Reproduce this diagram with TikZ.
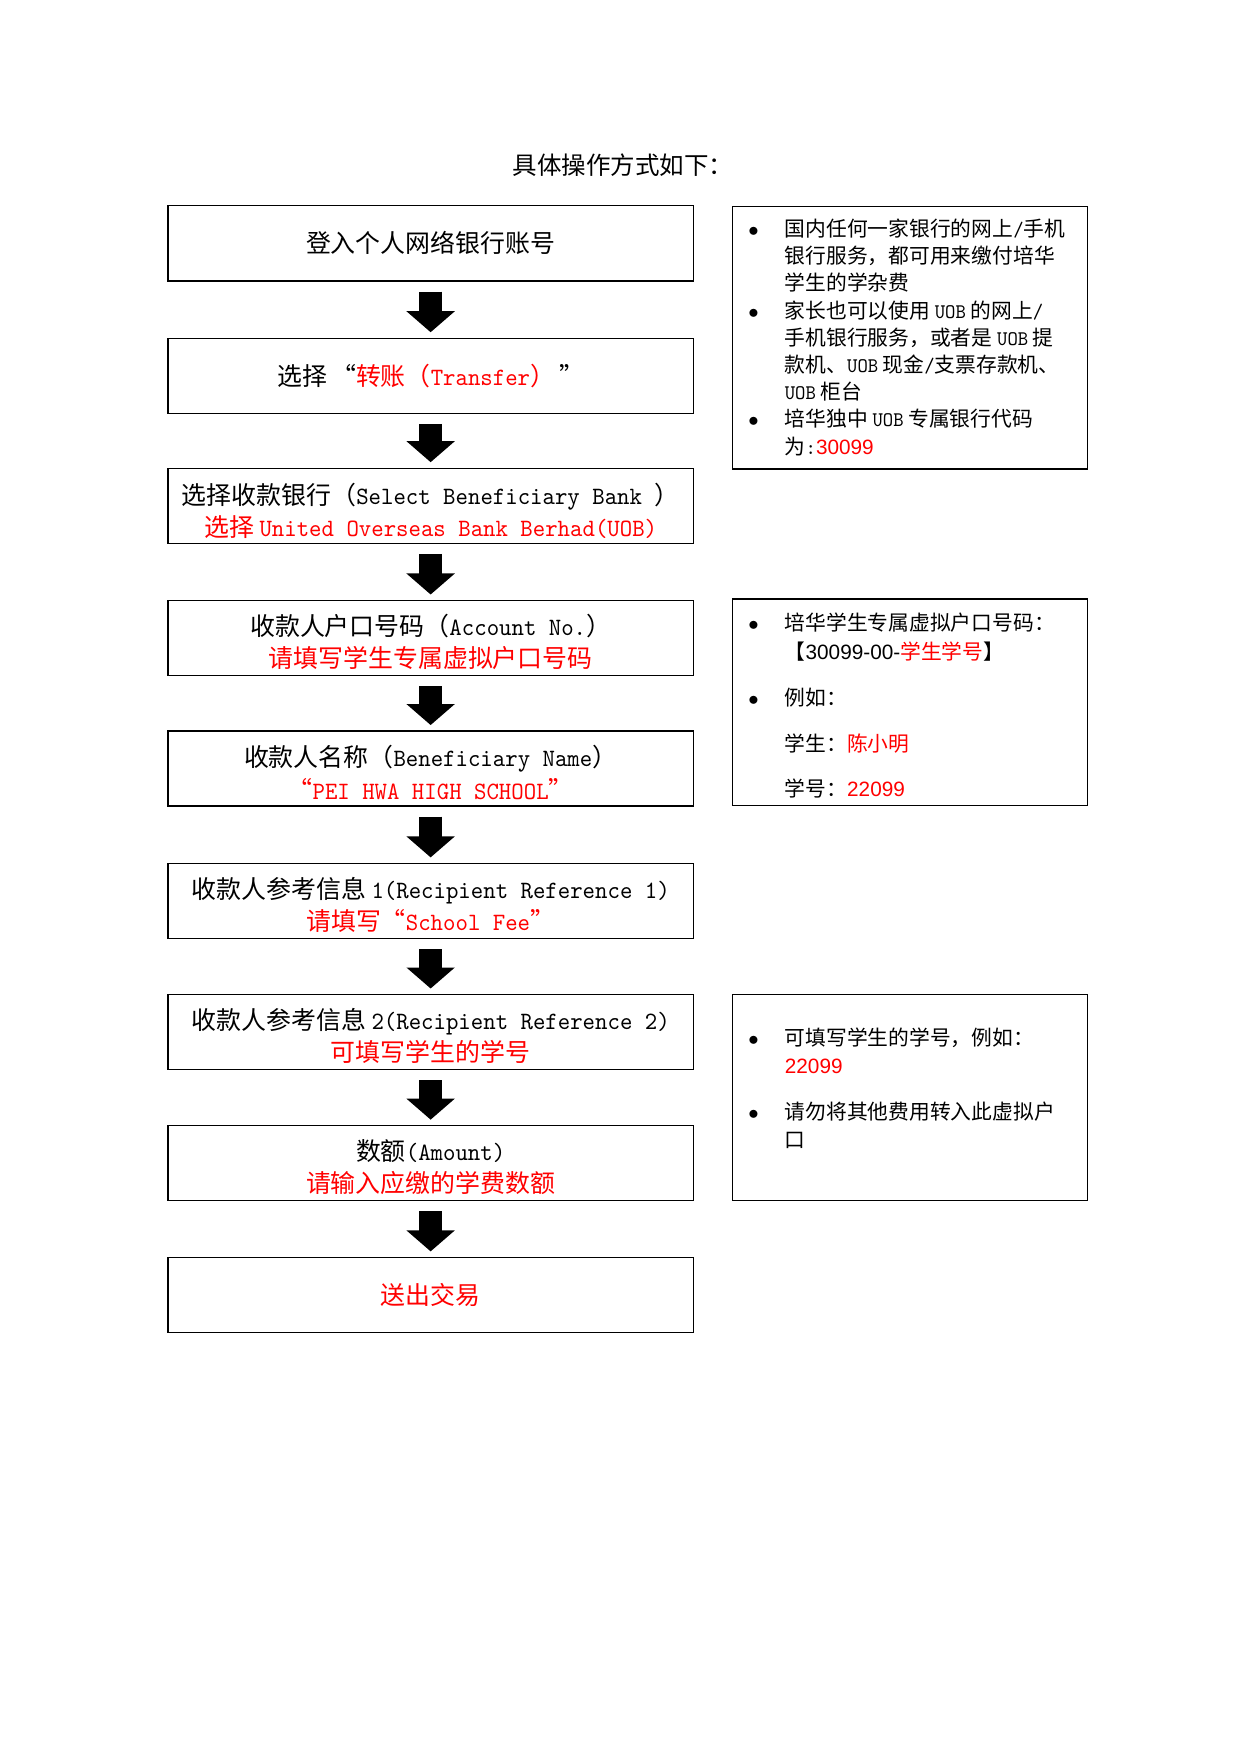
\documentclass[tikz,border=0pt]{standalone}
\usepackage{fontspec}
\setmainfont{Noto Sans CJK SC}
\newfontfamily\monolat{lmmono10-regular.otf}[FakeStretch=0.95]
\newfontfamily\arialnum{Liberation Sans}
\usepackage{xcolor}
\usepackage{tikz}
\usetikzlibrary{arrows.meta}

\newcommand{\mono}[1]{{\monolat #1}}
\newcommand{\anum}[1]{{\arialnum #1}}
\newcommand{\rd}[1]{\textcolor{red}{#1}}
\newcommand{\bul}{\makebox[0.62cm][l]{$\bullet$}}
\newcommand{\indt}{\hspace*{0.62cm}}
\newcommand{\topgap}{\rule{0pt}{14pt}}

\begin{document}
\begin{tikzpicture}[
         stepbox/.style={draw, line width=0.6pt, minimum width=8.89cm,
            minimum height=1.27cm, align=center, inner sep=2pt,
            font=\fontsize{12pt}{15.5pt}\selectfont},
         notebox/.style={draw, line width=0.6pt, minimum width=6.01cm},
         notetext/.style={anchor=north west, inner sep=0pt, align=left,
            font=\fontsize{10pt}{13.1pt}\selectfont},
         bigdown/.style={line width=0.40cm,
            -{Triangle[length=0.356cm, width=0.80cm]},
            shorten <=0.17cm, shorten >=0.09cm}]
         \useasboundingbox (0,0) rectangle (21.01,-29.71);

         \node (title) at (10.55,-2.79)
            [font=\fontsize{11.8pt}{14pt}\selectfont] {具体操作方式如下：};

         % steps on the left
         \node (s1) at (7.29,-4.12) [stepbox] {登入个人网络银行账号};
         \node (s2) at (7.29,-6.36) [stepbox]
            {选择\,“\rd{转账（\mono{Transfer}）}\,”};
         \node (s3) at (7.29,-8.56) [stepbox]
            {\rule{0pt}{15pt}选择收款银行（\mono{Select Beneficiary Bank }）\\
             \rd{选择 \mono{United Overseas Bank Berhad(UOB)}}};
         \node (s4) at (7.29,-10.80) [stepbox]
            {\topgap 收款人户口号码（\mono{Account No.}）\\
             \rd{请填写学生专属虚拟户口号码}};
         \node (s5) at (7.29,-13.01) [stepbox]
            {\topgap 收款人名称（\mono{Beneficiary Name}）\\
             \rd{“\mono{PEI HWA HIGH SCHOOL}”}};
         \node (s6) at (7.29,-15.25) [stepbox]
            {\topgap 收款人参考信息 \mono{1(Recipient Reference 1)}\\
             \rd{请填写“\mono{School Fee}”}};
         \node (s7) at (7.29,-17.47) [stepbox]
            {\topgap 收款人参考信息 \mono{2(Recipient Reference 2)}\\
             \rd{可填写学生的学号}};
         \node (s8) at (7.29,-19.69) [stepbox]
            {\topgap 数额\mono{(Amount)}\\
             \rd{请输入应缴的学费数额}};
         \node (s9) at (7.29,-21.92) [stepbox] {\rd{送出交易}};

         \draw [bigdown] (s1) -- (s2);
         \draw [bigdown] (s2) -- (s3);
         \draw [bigdown] (s3) -- (s4);
         \draw [bigdown] (s4) -- (s5);
         \draw [bigdown] (s5) -- (s6);
         \draw [bigdown] (s6) -- (s7);
         \draw [bigdown] (s7) -- (s8);
         \draw [bigdown] (s8) -- (s9);

         % notes on the right
         \node (n1) at (15.40,-5.715) [notebox, minimum height=4.45cm] {};
         \node (t1) at (12.66,-3.70) [notetext] {%
            \bul 国内任何一家银行的网上\mono{/}手机\\
            \indt 银行服务，都可用来缴付培华\\
            \indt 学生的学杂费\\
            \bul 家长也可以使用 \mono{UOB} 的网上\mono{/}\\
            \indt 手机银行服务，或者是 \mono{UOB} 提\\
            \indt 款机、\mono{UOB} 现金\mono{/}支票存款机、\\
            \indt \mono{UOB} 柜台\\
            \bul 培华独中 \mono{UOB} 专属银行代码\\
            \indt 为\mono{:}\rd{\anum{30099}}};

         \node (n2) at (15.40,-11.887) [notebox, minimum height=3.49cm] {};
         \node (t2) at (12.66,-10.37) [notetext] {%
            \bul 培华学生专属虚拟户口号码：\\[0.7pt]
            \indt 【\anum{30099-00-}\rd{学生学号}】\\[9pt]
            \bul 例如：\\[9pt]
            \indt 学生：\rd{陈小明}\\[9pt]
            \indt 学号：\rd{\anum{22099}}};

         \node (n3) at (15.40,-18.576) [notebox, minimum height=3.49cm] {};
         \node (t3) at (12.66,-17.39) [notetext] {%
            \bul 可填写学生的学号，例如：\\[0.7pt]
            \indt \rd{\anum{22099}}\\[9pt]
            \bul 请勿将其他费用转入此虚拟户\\
            \indt 口};
      \end{tikzpicture}
\end{document}
